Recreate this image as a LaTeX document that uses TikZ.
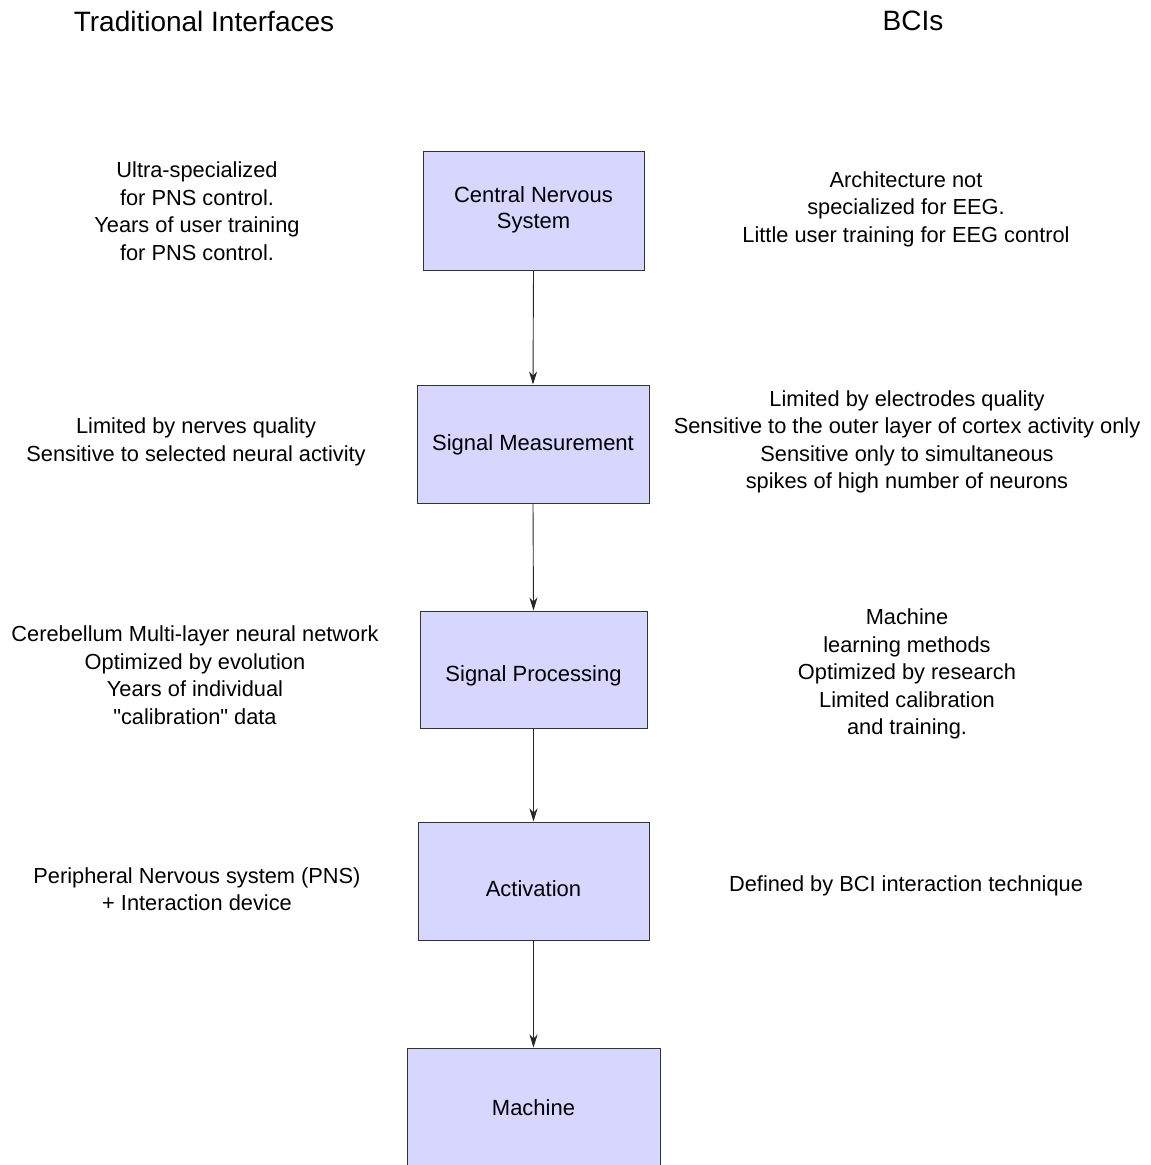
\documentclass[tikz,border=0pt]{standalone}
\usepackage{fontspec}
\setmainfont{Liberation Sans}
\newfontfamily\qfont{Liberation Sans}
\usetikzlibrary{arrows.meta}
\definecolor{boxfill}{HTML}{D6D6FF}
\definecolor{boxline}{HTML}{333333}
\begin{document}
\begin{tikzpicture}[x=1pt,y=-1pt,
  stepbox/.style={draw=boxline,line width=1pt,fill=boxfill,inner sep=0pt},
  boxtext/.style={align=center,inner sep=0pt,font=\fontsize{22}{26}\selectfont},
  note/.style={align=center,inner sep=0pt,font=\fontsize{21.8}{27.5}\selectfont},
  title/.style={inner sep=0pt,font=\fontsize{28}{32}\selectfont},
  flow/.style={-{Stealth[length=13pt,width=8pt,inset=4pt]},line width=0.9pt,draw=black!85}]
\useasboundingbox (0,0) rectangle (1151,1165);
\begin{scope}
\clip (0,0) rectangle (1151,1165);
\node[title] (t1) at (204,21) {Traditional Interfaces};
\node[title] (t2) at (913,21) {BCIs};

\node[stepbox,minimum width=221pt,minimum height=119pt] (cns) at (533.5,210.5) {};
\node[stepbox,minimum width=232pt,minimum height=118pt] (sm) at (533,444) {};
\node[stepbox,minimum width=227pt,minimum height=117pt] (sp) at (533.5,669.5) {};
\node[stepbox,minimum width=231pt,minimum height=118pt] (act) at (533.5,881) {};
\node[stepbox,minimum width=253pt,minimum height=118pt] (mac) at (533.5,1107) {};

\node[boxtext] (cns-t) at ([yshift=1pt]cns.center) {Central Nervous\\System};
\node[boxtext] (sm-t) at ([yshift=-1pt]sm.center) {Signal Measurement};
\node[boxtext] (sp-t) at ([yshift=-6pt]sp.center) {Signal Processing};
\node[boxtext] (act-t) at ([yshift=-8pt]act.center) {Activation};
\node[boxtext] (mac-t) at ([yshift=-1pt]mac.center) {Machine};

\draw[flow] (cns.south) -- (sm.north);
\draw[flow] (sm.south) -- (sp.north);
\draw[flow] (sp.south) -- (act.north);
\draw[flow] (act.south) -- (mac.north);

\node[note] (l1) at (197,211) {Ultra-specialized\\for PNS control.\\Years of user training\\for PNS control.};
\node[note] (r1) at (906,209) {Architecture not\\specialized for EEG.\\Little user training for EEG control};
\node[note] (l2) at (196,442) {Limited by nerves quality\\Sensitive to selected neural activity};
\node[note] (r2) at (907,442) {Limited by electrodes quality\\Sensitive to the outer layer of cortex activity only\\Sensitive only to simultaneous\\spikes of high number of neurons};
\node[note] (l3) at (195,675) {Cerebellum Multi-layer neural network\\Optimized by evolution\\Years of individual\\{\qfont"}calibration{\qfont"} data};
\node[note] (r3) at (907,674) {Machine\\learning methods\\Optimized by research\\Limited calibration\\and training.};
\node[note] (l4) at (197,889) {Peripheral Nervous system (PNS)\\+ Interaction device};
\node[note] (r4) at (906,886) {Defined by BCI interaction technique};
\end{scope}
\end{tikzpicture}
\end{document}
